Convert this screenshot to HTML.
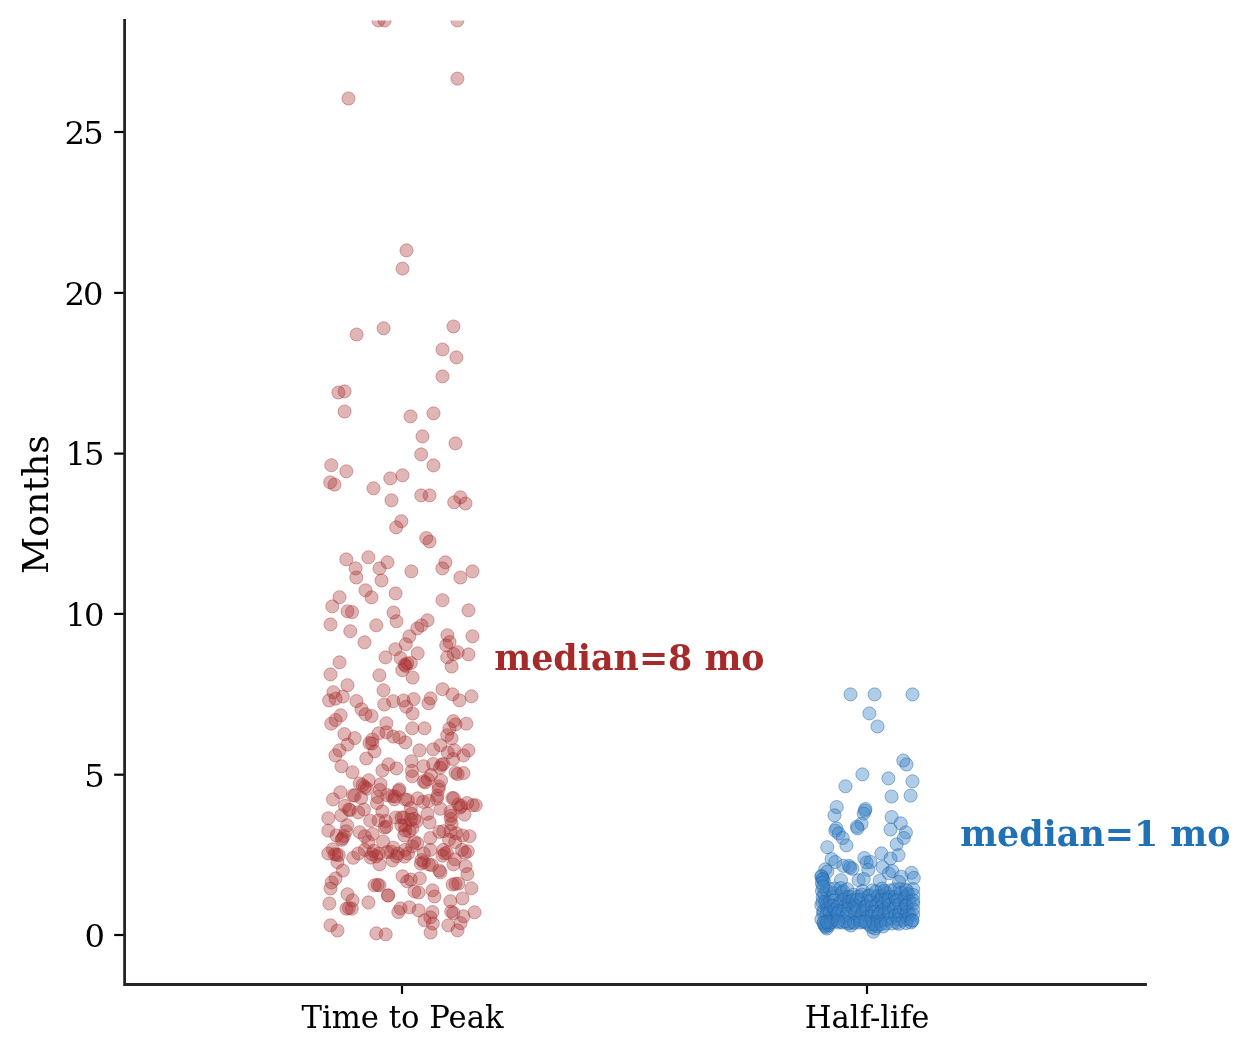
<!DOCTYPE html>
<html><head><meta charset="utf-8"><title>Months strip plot</title>
<style>
html,body{margin:0;padding:0;background:#fff}
svg{display:block}
text{font-family:"DejaVu Serif","Liberation Serif",serif;fill:#000}
.tk{font-size:32.2px}
.yl{font-size:36.3px}
.an{font-size:35.5px;font-weight:bold}
</style></head><body>
<svg width="1248" height="1054" viewBox="0 0 1248 1054">
<rect width="1248" height="1054" fill="#fff"/>
<defs><clipPath id="ax"><rect x="124.6" y="20.4" width="1020.9" height="964.1"/></clipPath></defs>
<g clip-path="url(#ax)">
<g fill="#a52a2a" fill-opacity="0.35" stroke="#a52a2a" stroke-opacity="0.42" stroke-width="0.9"><circle cx="378.5" cy="20.4" r="6.55"/><circle cx="384.6" cy="20.4" r="6.55"/><circle cx="457.4" cy="20.4" r="6.55"/><circle cx="457.4" cy="78.6" r="6.55"/><circle cx="348.5" cy="98.5" r="6.55"/><circle cx="406.5" cy="250.4" r="6.55"/><circle cx="402.5" cy="268.6" r="6.55"/><circle cx="356.6" cy="334.5" r="6.55"/><circle cx="383.6" cy="328.3" r="6.55"/><circle cx="453.5" cy="326.5" r="6.55"/><circle cx="442.5" cy="349.5" r="6.55"/><circle cx="456.4" cy="357.4" r="6.55"/><circle cx="442.5" cy="376.4" r="6.55"/><circle cx="338.4" cy="392.5" r="6.55"/><circle cx="344.6" cy="391.4" r="6.55"/><circle cx="344.6" cy="411.5" r="6.55"/><circle cx="410.5" cy="416.4" r="6.55"/><circle cx="433.5" cy="413.4" r="6.55"/><circle cx="422.5" cy="436.4" r="6.55"/><circle cx="455.5" cy="443.4" r="6.55"/><circle cx="421.2" cy="454.4" r="6.55"/><circle cx="433.5" cy="465.4" r="6.55"/><circle cx="331.3" cy="465.2" r="6.55"/><circle cx="346.3" cy="471.3" r="6.55"/><circle cx="330.2" cy="482.3" r="6.55"/><circle cx="334.5" cy="484.6" r="6.55"/><circle cx="373.5" cy="488.3" r="6.55"/><circle cx="390.3" cy="478.4" r="6.55"/><circle cx="402.5" cy="475.3" r="6.55"/><circle cx="391.5" cy="500.3" r="6.55"/><circle cx="421.2" cy="495.4" r="6.55"/><circle cx="429.6" cy="495.4" r="6.55"/><circle cx="460.4" cy="497.3" r="6.55"/><circle cx="454.2" cy="502.3" r="6.55"/><circle cx="465.5" cy="503.5" r="6.55"/><circle cx="401.4" cy="521.2" r="6.55"/><circle cx="396.2" cy="527.4" r="6.55"/><circle cx="426.2" cy="538.1" r="6.55"/><circle cx="429.6" cy="541.5" r="6.55"/><circle cx="346.3" cy="559.4" r="6.55"/><circle cx="368.4" cy="557.3" r="6.55"/><circle cx="387.5" cy="562.3" r="6.55"/><circle cx="355.6" cy="568.4" r="6.55"/><circle cx="379.5" cy="568.4" r="6.55"/><circle cx="356.3" cy="577.5" r="6.55"/><circle cx="381.5" cy="580.5" r="6.55"/><circle cx="411.4" cy="571.4" r="6.55"/><circle cx="445.4" cy="562.3" r="6.55"/><circle cx="442.4" cy="568.4" r="6.55"/><circle cx="460.4" cy="577.5" r="6.55"/><circle cx="472.5" cy="571.4" r="6.55"/><circle cx="365.5" cy="590.3" r="6.55"/><circle cx="371.5" cy="597.4" r="6.55"/><circle cx="395.6" cy="593.4" r="6.55"/><circle cx="339.5" cy="597.2" r="6.55"/><circle cx="332.3" cy="606.4" r="6.55"/><circle cx="347.5" cy="611.3" r="6.55"/><circle cx="352.1" cy="612.1" r="6.55"/><circle cx="393.5" cy="612.5" r="6.55"/><circle cx="396.5" cy="621.3" r="6.55"/><circle cx="330.5" cy="624.4" r="6.55"/><circle cx="376.3" cy="625.3" r="6.55"/><circle cx="350.3" cy="631.2" r="6.55"/><circle cx="364.5" cy="642.3" r="6.55"/><circle cx="442.5" cy="600.2" r="6.55"/><circle cx="468.5" cy="610.3" r="6.55"/><circle cx="427.6" cy="620.3" r="6.55"/><circle cx="421.5" cy="625.3" r="6.55"/><circle cx="417.3" cy="628.4" r="6.55"/><circle cx="409.4" cy="636.3" r="6.55"/><circle cx="405.8" cy="644.2" r="6.55"/><circle cx="447.4" cy="635.2" r="6.55"/><circle cx="449.6" cy="642.1" r="6.55"/><circle cx="446.2" cy="645.3" r="6.55"/><circle cx="472.5" cy="636.3" r="6.55"/><circle cx="395.4" cy="649.2" r="6.55"/><circle cx="385.5" cy="657.4" r="6.55"/><circle cx="400.5" cy="658.0" r="6.55"/><circle cx="339.5" cy="662.3" r="6.55"/><circle cx="330.5" cy="674.4" r="6.55"/><circle cx="379.4" cy="675.3" r="6.55"/><circle cx="347.5" cy="685.2" r="6.55"/><circle cx="383.5" cy="690.3" r="6.55"/><circle cx="333.4" cy="692.2" r="6.55"/><circle cx="342.8" cy="696.6" r="6.55"/><circle cx="329.1" cy="700.5" r="6.55"/><circle cx="335.6" cy="698.7" r="6.55"/><circle cx="356.5" cy="701.1" r="6.55"/><circle cx="384.2" cy="704.5" r="6.55"/><circle cx="393.2" cy="701.2" r="6.55"/><circle cx="361.5" cy="709.2" r="6.55"/><circle cx="365.5" cy="714.2" r="6.55"/><circle cx="371.6" cy="716.0" r="6.55"/><circle cx="340.6" cy="715.3" r="6.55"/><circle cx="335.6" cy="720.0" r="6.55"/><circle cx="417.7" cy="653.3" r="6.55"/><circle cx="410.8" cy="663.0" r="6.55"/><circle cx="407.2" cy="663.4" r="6.55"/><circle cx="404.7" cy="664.8" r="6.55"/><circle cx="402.3" cy="670.2" r="6.55"/><circle cx="405.8" cy="665.9" r="6.55"/><circle cx="412.6" cy="677.5" r="6.55"/><circle cx="457.7" cy="652.2" r="6.55"/><circle cx="453.7" cy="654.0" r="6.55"/><circle cx="447.2" cy="657.3" r="6.55"/><circle cx="468.5" cy="654.4" r="6.55"/><circle cx="451.6" cy="666.5" r="6.55"/><circle cx="442.5" cy="689.2" r="6.55"/><circle cx="452.5" cy="694.3" r="6.55"/><circle cx="459.5" cy="700.4" r="6.55"/><circle cx="471.5" cy="696.3" r="6.55"/><circle cx="430.6" cy="698.4" r="6.55"/><circle cx="428.5" cy="703.4" r="6.55"/><circle cx="413.7" cy="699.1" r="6.55"/><circle cx="403.6" cy="700.5" r="6.55"/><circle cx="406.1" cy="706.7" r="6.55"/><circle cx="412.6" cy="713.5" r="6.55"/><circle cx="331.2" cy="723.7" r="6.55"/><circle cx="386.4" cy="723.3" r="6.55"/><circle cx="378.5" cy="733.4" r="6.55"/><circle cx="386.4" cy="732.3" r="6.55"/><circle cx="393.2" cy="736.6" r="6.55"/><circle cx="399.4" cy="737.4" r="6.55"/><circle cx="344.4" cy="734.1" r="6.55"/><circle cx="354.7" cy="738.1" r="6.55"/><circle cx="347.5" cy="744.6" r="6.55"/><circle cx="339.5" cy="750.3" r="6.55"/><circle cx="335.4" cy="755.4" r="6.55"/><circle cx="372.3" cy="739.5" r="6.55"/><circle cx="369.4" cy="743.1" r="6.55"/><circle cx="372.0" cy="743.5" r="6.55"/><circle cx="374.5" cy="751.4" r="6.55"/><circle cx="366.3" cy="758.5" r="6.55"/><circle cx="341.5" cy="766.3" r="6.55"/><circle cx="352.5" cy="772.3" r="6.55"/><circle cx="388.4" cy="764.3" r="6.55"/><circle cx="382.4" cy="770.5" r="6.55"/><circle cx="396.5" cy="768.4" r="6.55"/><circle cx="368.7" cy="780.3" r="6.55"/><circle cx="380.6" cy="784.2" r="6.55"/><circle cx="359.7" cy="783.5" r="6.55"/><circle cx="362.6" cy="785.0" r="6.55"/><circle cx="364.8" cy="787.1" r="6.55"/><circle cx="399.4" cy="789.3" r="6.55"/><circle cx="379.9" cy="790.0" r="6.55"/><circle cx="412.3" cy="728.3" r="6.55"/><circle cx="424.5" cy="728.3" r="6.55"/><circle cx="405.4" cy="742.4" r="6.55"/><circle cx="419.5" cy="750.3" r="6.55"/><circle cx="433.2" cy="749.3" r="6.55"/><circle cx="440.4" cy="745.3" r="6.55"/><circle cx="453.4" cy="721.1" r="6.55"/><circle cx="455.5" cy="724.4" r="6.55"/><circle cx="466.3" cy="723.7" r="6.55"/><circle cx="449.4" cy="728.7" r="6.55"/><circle cx="447.2" cy="735.2" r="6.55"/><circle cx="451.6" cy="738.4" r="6.55"/><circle cx="447.8" cy="752.5" r="6.55"/><circle cx="454.4" cy="750.3" r="6.55"/><circle cx="468.5" cy="750.3" r="6.55"/><circle cx="463.5" cy="755.4" r="6.55"/><circle cx="453.0" cy="759.0" r="6.55"/><circle cx="441.5" cy="764.8" r="6.55"/><circle cx="443.3" cy="764.0" r="6.55"/><circle cx="440.0" cy="767.6" r="6.55"/><circle cx="433.2" cy="764.0" r="6.55"/><circle cx="423.4" cy="766.2" r="6.55"/><circle cx="411.5" cy="761.2" r="6.55"/><circle cx="411.9" cy="770.9" r="6.55"/><circle cx="412.3" cy="776.3" r="6.55"/><circle cx="431.0" cy="774.9" r="6.55"/><circle cx="427.8" cy="779.2" r="6.55"/><circle cx="423.8" cy="781.3" r="6.55"/><circle cx="425.2" cy="782.4" r="6.55"/><circle cx="441.1" cy="780.6" r="6.55"/><circle cx="438.9" cy="786.4" r="6.55"/><circle cx="455.5" cy="772.7" r="6.55"/><circle cx="457.7" cy="774.1" r="6.55"/><circle cx="463.5" cy="773.1" r="6.55"/><circle cx="340.4" cy="792.2" r="6.55"/><circle cx="333.0" cy="799.4" r="6.55"/><circle cx="328.3" cy="818.2" r="6.55"/><circle cx="328.3" cy="830.6" r="6.55"/><circle cx="344.9" cy="805.9" r="6.55"/><circle cx="341.3" cy="815.3" r="6.55"/><circle cx="350.0" cy="810.2" r="6.55"/><circle cx="348.9" cy="809.5" r="6.55"/><circle cx="354.7" cy="795.5" r="6.55"/><circle cx="361.2" cy="798.0" r="6.55"/><circle cx="366.9" cy="788.6" r="6.55"/><circle cx="387.1" cy="795.1" r="6.55"/><circle cx="394.3" cy="799.4" r="6.55"/><circle cx="398.7" cy="790.8" r="6.55"/><circle cx="405.1" cy="799.4" r="6.55"/><circle cx="377.0" cy="803.0" r="6.55"/><circle cx="364.0" cy="809.5" r="6.55"/><circle cx="382.4" cy="811.3" r="6.55"/><circle cx="358.3" cy="812.4" r="6.55"/><circle cx="370.2" cy="820.7" r="6.55"/><circle cx="378.5" cy="820.3" r="6.55"/><circle cx="385.7" cy="821.1" r="6.55"/><circle cx="384.6" cy="827.5" r="6.55"/><circle cx="395.8" cy="817.5" r="6.55"/><circle cx="401.5" cy="817.5" r="6.55"/><circle cx="405.1" cy="825.4" r="6.55"/><circle cx="347.1" cy="825.4" r="6.55"/><circle cx="346.0" cy="831.2" r="6.55"/><circle cx="336.6" cy="835.5" r="6.55"/><circle cx="342.4" cy="838.4" r="6.55"/><circle cx="341.7" cy="839.8" r="6.55"/><circle cx="359.7" cy="832.2" r="6.55"/><circle cx="364.8" cy="836.2" r="6.55"/><circle cx="372.7" cy="834.0" r="6.55"/><circle cx="368.4" cy="842.0" r="6.55"/><circle cx="383.1" cy="841.6" r="6.55"/><circle cx="393.2" cy="847.7" r="6.55"/><circle cx="387.1" cy="852.1" r="6.55"/><circle cx="405.1" cy="830.4" r="6.55"/><circle cx="405.1" cy="849.9" r="6.55"/><circle cx="332.7" cy="849.2" r="6.55"/><circle cx="328.3" cy="853.5" r="6.55"/><circle cx="334.5" cy="854.2" r="6.55"/><circle cx="338.8" cy="855.0" r="6.55"/><circle cx="358.3" cy="853.5" r="6.55"/><circle cx="353.2" cy="857.8" r="6.55"/><circle cx="364.8" cy="849.9" r="6.55"/><circle cx="372.0" cy="854.2" r="6.55"/><circle cx="376.3" cy="856.4" r="6.55"/><circle cx="397.9" cy="853.5" r="6.55"/><circle cx="438.6" cy="789.3" r="6.55"/><circle cx="437.5" cy="795.8" r="6.55"/><circle cx="436.8" cy="798.7" r="6.55"/><circle cx="417.7" cy="798.3" r="6.55"/><circle cx="423.1" cy="801.9" r="6.55"/><circle cx="428.8" cy="800.9" r="6.55"/><circle cx="407.9" cy="800.1" r="6.55"/><circle cx="452.3" cy="798.0" r="6.55"/><circle cx="458.4" cy="804.5" r="6.55"/><circle cx="461.3" cy="805.9" r="6.55"/><circle cx="467.1" cy="803.0" r="6.55"/><circle cx="472.8" cy="805.2" r="6.55"/><circle cx="475.7" cy="805.2" r="6.55"/><circle cx="464.5" cy="814.6" r="6.55"/><circle cx="440.4" cy="808.8" r="6.55"/><circle cx="450.5" cy="811.7" r="6.55"/><circle cx="450.8" cy="818.9" r="6.55"/><circle cx="451.6" cy="823.9" r="6.55"/><circle cx="427.4" cy="813.8" r="6.55"/><circle cx="429.6" cy="822.5" r="6.55"/><circle cx="410.8" cy="808.1" r="6.55"/><circle cx="411.5" cy="813.8" r="6.55"/><circle cx="414.4" cy="818.9" r="6.55"/><circle cx="416.6" cy="821.1" r="6.55"/><circle cx="403.6" cy="817.5" r="6.55"/><circle cx="401.4" cy="825.4" r="6.55"/><circle cx="409.4" cy="831.2" r="6.55"/><circle cx="404.3" cy="835.5" r="6.55"/><circle cx="439.3" cy="831.9" r="6.55"/><circle cx="443.3" cy="831.2" r="6.55"/><circle cx="450.5" cy="831.2" r="6.55"/><circle cx="456.2" cy="833.3" r="6.55"/><circle cx="462.7" cy="835.5" r="6.55"/><circle cx="469.6" cy="836.2" r="6.55"/><circle cx="430.3" cy="838.0" r="6.55"/><circle cx="449.0" cy="839.8" r="6.55"/><circle cx="455.2" cy="842.0" r="6.55"/><circle cx="414.4" cy="842.0" r="6.55"/><circle cx="417.3" cy="843.4" r="6.55"/><circle cx="412.3" cy="846.3" r="6.55"/><circle cx="407.9" cy="853.5" r="6.55"/><circle cx="430.3" cy="849.9" r="6.55"/><circle cx="423.8" cy="853.5" r="6.55"/><circle cx="443.3" cy="849.9" r="6.55"/><circle cx="444.7" cy="853.5" r="6.55"/><circle cx="442.5" cy="855.7" r="6.55"/><circle cx="446.9" cy="852.8" r="6.55"/><circle cx="462.0" cy="849.9" r="6.55"/><circle cx="467.8" cy="851.3" r="6.55"/><circle cx="464.9" cy="852.8" r="6.55"/><circle cx="421.6" cy="860.0" r="6.55"/><circle cx="454.8" cy="859.3" r="6.55"/><circle cx="337.4" cy="862.2" r="6.55"/><circle cx="342.8" cy="870.5" r="6.55"/><circle cx="379.5" cy="864.4" r="6.55"/><circle cx="392.5" cy="860.4" r="6.55"/><circle cx="396.5" cy="856.4" r="6.55"/><circle cx="335.6" cy="878.4" r="6.55"/><circle cx="331.6" cy="882.4" r="6.55"/><circle cx="330.5" cy="888.5" r="6.55"/><circle cx="329.4" cy="903.5" r="6.55"/><circle cx="347.5" cy="894.2" r="6.55"/><circle cx="352.5" cy="900.3" r="6.55"/><circle cx="346.4" cy="908.7" r="6.55"/><circle cx="348.9" cy="908.0" r="6.55"/><circle cx="351.8" cy="908.7" r="6.55"/><circle cx="368.4" cy="902.4" r="6.55"/><circle cx="374.5" cy="885.3" r="6.55"/><circle cx="377.7" cy="884.9" r="6.55"/><circle cx="379.5" cy="885.3" r="6.55"/><circle cx="388.0" cy="895.4" r="6.55"/><circle cx="388.1" cy="895.5" r="6.55"/><circle cx="402.6" cy="876.3" r="6.55"/><circle cx="400.5" cy="908.4" r="6.55"/><circle cx="398.3" cy="912.0" r="6.55"/><circle cx="330.5" cy="925.3" r="6.55"/><circle cx="420.9" cy="863.7" r="6.55"/><circle cx="423.8" cy="862.2" r="6.55"/><circle cx="428.8" cy="864.4" r="6.55"/><circle cx="431.7" cy="865.1" r="6.55"/><circle cx="439.3" cy="870.5" r="6.55"/><circle cx="440.4" cy="872.3" r="6.55"/><circle cx="453.4" cy="864.4" r="6.55"/><circle cx="465.6" cy="866.2" r="6.55"/><circle cx="467.4" cy="874.1" r="6.55"/><circle cx="452.6" cy="884.6" r="6.55"/><circle cx="455.5" cy="883.8" r="6.55"/><circle cx="458.4" cy="883.5" r="6.55"/><circle cx="471.4" cy="888.3" r="6.55"/><circle cx="462.4" cy="898.5" r="6.55"/><circle cx="450.3" cy="901.2" r="6.55"/><circle cx="432.5" cy="890.3" r="6.55"/><circle cx="434.5" cy="896.5" r="6.55"/><circle cx="419.8" cy="878.4" r="6.55"/><circle cx="410.8" cy="879.5" r="6.55"/><circle cx="407.2" cy="881.3" r="6.55"/><circle cx="414.4" cy="891.4" r="6.55"/><circle cx="418.6" cy="892.5" r="6.55"/><circle cx="409.4" cy="907.3" r="6.55"/><circle cx="418.6" cy="910.4" r="6.55"/><circle cx="432.5" cy="912.0" r="6.55"/><circle cx="430.3" cy="917.4" r="6.55"/><circle cx="424.5" cy="920.3" r="6.55"/><circle cx="432.8" cy="923.5" r="6.55"/><circle cx="451.2" cy="911.6" r="6.55"/><circle cx="453.4" cy="913.1" r="6.55"/><circle cx="463.5" cy="916.3" r="6.55"/><circle cx="474.6" cy="912.3" r="6.55"/><circle cx="460.6" cy="923.1" r="6.55"/><circle cx="448.3" cy="925.3" r="6.55"/><circle cx="457.5" cy="930.4" r="6.55"/><circle cx="430.6" cy="932.5" r="6.55"/><circle cx="337.5" cy="930.5" r="6.55"/><circle cx="376.3" cy="933.4" r="6.55"/><circle cx="385.7" cy="934.4" r="6.55"/><circle cx="353.0" cy="795.3" r="6.55"/><circle cx="377.7" cy="797.0" r="6.55"/><circle cx="392.1" cy="796.1" r="6.55"/><circle cx="395.0" cy="796.5" r="6.55"/><circle cx="386.3" cy="826.8" r="6.55"/><circle cx="412.3" cy="828.3" r="6.55"/><circle cx="410.9" cy="819.6" r="6.55"/><circle cx="453.8" cy="798.2" r="6.55"/><circle cx="451.0" cy="815.8" r="6.55"/><circle cx="460.1" cy="807.6" r="6.55"/><circle cx="336.6" cy="854.7" r="6.55"/><circle cx="370.8" cy="857.6" r="6.55"/><circle cx="373.7" cy="850.9" r="6.55"/><circle cx="343.8" cy="836.0" r="6.55"/><circle cx="378.7" cy="853.8" r="6.55"/><circle cx="391.2" cy="851.8" r="6.55"/><circle cx="404.6" cy="856.6" r="6.55"/></g>
<g fill="#3a82c6" fill-opacity="0.4" stroke="#1c5fa3" stroke-opacity="0.5" stroke-width="0.9"><circle cx="850.5" cy="694.4" r="6.55"/><circle cx="874.6" cy="694.4" r="6.55"/><circle cx="912.5" cy="694.4" r="6.55"/><circle cx="869.4" cy="713.4" r="6.55"/><circle cx="877.5" cy="726.5" r="6.55"/><circle cx="903.3" cy="760.5" r="6.55"/><circle cx="906.5" cy="764.5" r="6.55"/><circle cx="862.4" cy="774.4" r="6.55"/><circle cx="888.4" cy="778.4" r="6.55"/><circle cx="912.5" cy="781.3" r="6.55"/><circle cx="845.5" cy="786.3" r="6.55"/><circle cx="891.6" cy="796.5" r="6.55"/><circle cx="910.6" cy="795.6" r="6.55"/><circle cx="836.7" cy="807.1" r="6.55"/><circle cx="834.5" cy="815.3" r="6.55"/><circle cx="865.4" cy="809.0" r="6.55"/><circle cx="864.9" cy="810.7" r="6.55"/><circle cx="863.7" cy="813.6" r="6.55"/><circle cx="861.5" cy="823.8" r="6.55"/><circle cx="856.9" cy="826.7" r="6.55"/><circle cx="857.5" cy="828.4" r="6.55"/><circle cx="891.6" cy="817.0" r="6.55"/><circle cx="900.7" cy="823.3" r="6.55"/><circle cx="890.5" cy="829.5" r="6.55"/><circle cx="905.9" cy="832.4" r="6.55"/><circle cx="903.8" cy="838.0" r="6.55"/><circle cx="896.7" cy="844.3" r="6.55"/><circle cx="836.4" cy="828.4" r="6.55"/><circle cx="835.3" cy="830.7" r="6.55"/><circle cx="838.7" cy="833.5" r="6.55"/><circle cx="842.7" cy="838.0" r="6.55"/><circle cx="846.4" cy="845.4" r="6.55"/><circle cx="827.3" cy="847.2" r="6.55"/><circle cx="881.4" cy="853.4" r="6.55"/><circle cx="898.5" cy="855.1" r="6.55"/><circle cx="890.5" cy="858.5" r="6.55"/><circle cx="864.3" cy="858.0" r="6.55"/><circle cx="866.6" cy="862.5" r="6.55"/><circle cx="870.6" cy="862.0" r="6.55"/><circle cx="831.6" cy="859.1" r="6.55"/><circle cx="835.3" cy="862.0" r="6.55"/><circle cx="825.3" cy="869.3" r="6.55"/><circle cx="827.3" cy="871.6" r="6.55"/><circle cx="843.3" cy="865.9" r="6.55"/><circle cx="848.9" cy="865.9" r="6.55"/><circle cx="852.4" cy="868.8" r="6.55"/><circle cx="850.1" cy="867.6" r="6.55"/><circle cx="868.3" cy="869.9" r="6.55"/><circle cx="882.5" cy="867.1" r="6.55"/><circle cx="888.8" cy="873.3" r="6.55"/><circle cx="892.2" cy="871.1" r="6.55"/><circle cx="911.5" cy="872.8" r="6.55"/><circle cx="913.8" cy="877.9" r="6.55"/><circle cx="901.3" cy="876.7" r="6.55"/><circle cx="899.0" cy="881.9" r="6.55"/><circle cx="821.6" cy="876.7" r="6.55"/><circle cx="822.8" cy="879.0" r="6.55"/><circle cx="823.9" cy="881.3" r="6.55"/><circle cx="841.0" cy="880.2" r="6.55"/><circle cx="858.6" cy="880.2" r="6.55"/><circle cx="863.7" cy="879.0" r="6.55"/><circle cx="879.7" cy="880.7" r="6.55"/><circle cx="822.0" cy="891.1" r="6.55"/><circle cx="822.7" cy="897.0" r="6.55"/><circle cx="822.5" cy="902.0" r="6.55"/><circle cx="821.3" cy="905.1" r="6.55"/><circle cx="823.3" cy="911.0" r="6.55"/><circle cx="823.1" cy="913.7" r="6.55"/><circle cx="821.4" cy="919.4" r="6.55"/><circle cx="826.3" cy="890.3" r="6.55"/><circle cx="824.1" cy="893.8" r="6.55"/><circle cx="825.2" cy="902.0" r="6.55"/><circle cx="827.1" cy="903.8" r="6.55"/><circle cx="827.3" cy="908.7" r="6.55"/><circle cx="826.5" cy="913.8" r="6.55"/><circle cx="824.1" cy="922.1" r="6.55"/><circle cx="829.5" cy="888.7" r="6.55"/><circle cx="832.6" cy="896.7" r="6.55"/><circle cx="829.8" cy="902.2" r="6.55"/><circle cx="830.8" cy="906.0" r="6.55"/><circle cx="829.5" cy="912.3" r="6.55"/><circle cx="831.4" cy="917.5" r="6.55"/><circle cx="832.2" cy="919.6" r="6.55"/><circle cx="834.7" cy="888.5" r="6.55"/><circle cx="833.8" cy="893.2" r="6.55"/><circle cx="834.4" cy="900.6" r="6.55"/><circle cx="833.2" cy="906.0" r="6.55"/><circle cx="834.6" cy="909.5" r="6.55"/><circle cx="836.5" cy="915.3" r="6.55"/><circle cx="834.5" cy="920.4" r="6.55"/><circle cx="840.6" cy="888.1" r="6.55"/><circle cx="841.7" cy="893.0" r="6.55"/><circle cx="840.8" cy="901.7" r="6.55"/><circle cx="837.9" cy="906.5" r="6.55"/><circle cx="839.3" cy="910.7" r="6.55"/><circle cx="837.8" cy="913.4" r="6.55"/><circle cx="838.5" cy="922.5" r="6.55"/><circle cx="843.2" cy="891.1" r="6.55"/><circle cx="846.1" cy="897.0" r="6.55"/><circle cx="843.8" cy="899.5" r="6.55"/><circle cx="844.5" cy="906.5" r="6.55"/><circle cx="842.8" cy="911.4" r="6.55"/><circle cx="845.6" cy="917.0" r="6.55"/><circle cx="842.5" cy="922.5" r="6.55"/><circle cx="847.3" cy="889.3" r="6.55"/><circle cx="849.4" cy="896.9" r="6.55"/><circle cx="848.3" cy="902.0" r="6.55"/><circle cx="849.1" cy="904.4" r="6.55"/><circle cx="848.2" cy="908.9" r="6.55"/><circle cx="847.3" cy="913.9" r="6.55"/><circle cx="849.7" cy="922.7" r="6.55"/><circle cx="853.7" cy="894.7" r="6.55"/><circle cx="852.5" cy="900.6" r="6.55"/><circle cx="854.8" cy="905.1" r="6.55"/><circle cx="853.2" cy="908.4" r="6.55"/><circle cx="855.2" cy="913.4" r="6.55"/><circle cx="853.5" cy="922.0" r="6.55"/><circle cx="858.6" cy="896.4" r="6.55"/><circle cx="856.5" cy="899.9" r="6.55"/><circle cx="856.7" cy="906.8" r="6.55"/><circle cx="857.3" cy="910.1" r="6.55"/><circle cx="860.1" cy="917.0" r="6.55"/><circle cx="860.0" cy="920.3" r="6.55"/><circle cx="862.6" cy="891.0" r="6.55"/><circle cx="861.8" cy="894.7" r="6.55"/><circle cx="861.3" cy="899.6" r="6.55"/><circle cx="864.6" cy="907.3" r="6.55"/><circle cx="863.2" cy="910.3" r="6.55"/><circle cx="862.0" cy="913.6" r="6.55"/><circle cx="861.8" cy="921.7" r="6.55"/><circle cx="868.3" cy="895.9" r="6.55"/><circle cx="867.9" cy="901.3" r="6.55"/><circle cx="866.7" cy="906.1" r="6.55"/><circle cx="866.4" cy="910.3" r="6.55"/><circle cx="868.3" cy="916.3" r="6.55"/><circle cx="866.4" cy="922.5" r="6.55"/><circle cx="872.4" cy="890.4" r="6.55"/><circle cx="869.9" cy="895.3" r="6.55"/><circle cx="870.8" cy="900.9" r="6.55"/><circle cx="871.7" cy="906.6" r="6.55"/><circle cx="872.4" cy="911.6" r="6.55"/><circle cx="871.2" cy="916.1" r="6.55"/><circle cx="872.8" cy="921.9" r="6.55"/><circle cx="875.8" cy="891.5" r="6.55"/><circle cx="877.9" cy="895.9" r="6.55"/><circle cx="878.3" cy="902.2" r="6.55"/><circle cx="876.5" cy="905.4" r="6.55"/><circle cx="875.1" cy="911.8" r="6.55"/><circle cx="878.1" cy="915.3" r="6.55"/><circle cx="877.2" cy="921.5" r="6.55"/><circle cx="881.9" cy="888.6" r="6.55"/><circle cx="882.1" cy="895.4" r="6.55"/><circle cx="881.6" cy="899.8" r="6.55"/><circle cx="881.5" cy="906.5" r="6.55"/><circle cx="881.5" cy="911.3" r="6.55"/><circle cx="879.1" cy="913.9" r="6.55"/><circle cx="880.7" cy="921.2" r="6.55"/><circle cx="884.4" cy="890.8" r="6.55"/><circle cx="886.1" cy="893.1" r="6.55"/><circle cx="885.4" cy="899.0" r="6.55"/><circle cx="883.8" cy="903.6" r="6.55"/><circle cx="884.8" cy="908.9" r="6.55"/><circle cx="884.3" cy="913.4" r="6.55"/><circle cx="885.4" cy="920.0" r="6.55"/><circle cx="890.6" cy="890.4" r="6.55"/><circle cx="889.1" cy="896.9" r="6.55"/><circle cx="888.1" cy="899.8" r="6.55"/><circle cx="889.2" cy="904.9" r="6.55"/><circle cx="888.6" cy="911.8" r="6.55"/><circle cx="889.6" cy="913.4" r="6.55"/><circle cx="890.6" cy="918.7" r="6.55"/><circle cx="894.9" cy="889.3" r="6.55"/><circle cx="895.0" cy="897.1" r="6.55"/><circle cx="896.0" cy="899.8" r="6.55"/><circle cx="896.0" cy="905.9" r="6.55"/><circle cx="894.2" cy="908.8" r="6.55"/><circle cx="895.1" cy="915.7" r="6.55"/><circle cx="896.5" cy="922.6" r="6.55"/><circle cx="899.7" cy="889.3" r="6.55"/><circle cx="900.8" cy="892.9" r="6.55"/><circle cx="897.7" cy="900.5" r="6.55"/><circle cx="899.7" cy="903.7" r="6.55"/><circle cx="899.8" cy="912.1" r="6.55"/><circle cx="898.8" cy="915.1" r="6.55"/><circle cx="898.2" cy="919.6" r="6.55"/><circle cx="905.7" cy="889.5" r="6.55"/><circle cx="905.7" cy="896.9" r="6.55"/><circle cx="904.2" cy="899.1" r="6.55"/><circle cx="905.8" cy="905.2" r="6.55"/><circle cx="903.5" cy="909.5" r="6.55"/><circle cx="905.8" cy="915.4" r="6.55"/><circle cx="903.0" cy="920.4" r="6.55"/><circle cx="906.9" cy="890.5" r="6.55"/><circle cx="908.2" cy="894.2" r="6.55"/><circle cx="909.6" cy="901.6" r="6.55"/><circle cx="906.5" cy="905.4" r="6.55"/><circle cx="907.5" cy="912.2" r="6.55"/><circle cx="909.6" cy="914.3" r="6.55"/><circle cx="907.5" cy="919.0" r="6.55"/><circle cx="913.2" cy="889.1" r="6.55"/><circle cx="913.2" cy="895.0" r="6.55"/><circle cx="913.2" cy="900.6" r="6.55"/><circle cx="913.2" cy="903.6" r="6.55"/><circle cx="913.2" cy="909.5" r="6.55"/><circle cx="913.1" cy="914.7" r="6.55"/><circle cx="912.2" cy="920.6" r="6.55"/><circle cx="821.5" cy="876" r="6.55"/><circle cx="822.5" cy="879.5" r="6.55"/><circle cx="821.8" cy="883" r="6.55"/><circle cx="823" cy="886.5" r="6.55"/><circle cx="826" cy="927" r="6.55"/><circle cx="828.5" cy="924" r="6.55"/><circle cx="824.5" cy="925" r="6.55"/><circle cx="826.8" cy="928.5" r="6.55"/><circle cx="825" cy="926" r="6.55"/><circle cx="829" cy="925.5" r="6.55"/><circle cx="823.5" cy="923" r="6.55"/><circle cx="831" cy="922.5" r="6.55"/><circle cx="827" cy="922" r="6.55"/><circle cx="850.9" cy="925.5" r="6.55"/><circle cx="848" cy="923.5" r="6.55"/><circle cx="854" cy="923" r="6.55"/><circle cx="845" cy="921.5" r="6.55"/><circle cx="873.5" cy="931.7" r="6.55"/><circle cx="875" cy="928.5" r="6.55"/><circle cx="871.5" cy="927" r="6.55"/><circle cx="877" cy="926" r="6.55"/><circle cx="869" cy="924.5" r="6.55"/><circle cx="874" cy="924" r="6.55"/><circle cx="883" cy="926.5" r="6.55"/><circle cx="881" cy="924" r="6.55"/><circle cx="886" cy="923.5" r="6.55"/><circle cx="892" cy="923.5" r="6.55"/><circle cx="899" cy="923.8" r="6.55"/><circle cx="906" cy="923" r="6.55"/><circle cx="911" cy="922.5" r="6.55"/><circle cx="912.5" cy="920.5" r="6.55"/><circle cx="838" cy="921" r="6.55"/><circle cx="860" cy="922.5" r="6.55"/><circle cx="865" cy="921.5" r="6.55"/></g>
</g>
<g stroke="#000" stroke-width="2.2" fill="none"><line x1="114.2" y1="935" x2="124.6" y2="935"/><line x1="114.2" y1="774.7" x2="124.6" y2="774.7"/><line x1="114.2" y1="613.9" x2="124.6" y2="613.9"/><line x1="114.2" y1="453.6" x2="124.6" y2="453.6"/><line x1="114.2" y1="292.9" x2="124.6" y2="292.9"/><line x1="114.2" y1="132.0" x2="124.6" y2="132.0"/><line x1="402" y1="984.5" x2="402" y2="993.9"/><line x1="867" y1="984.5" x2="867" y2="993.9"/></g>
<path d="M124.6 20.4V984.5H1145.5" stroke="#242424" stroke-width="2.78" fill="none" stroke-linecap="square" stroke-linejoin="miter"/>
<g class="tk"><text x="84.6" y="946.8">0</text><text x="84.2" y="786.5">5</text><text x="65.4 83.9" y="625.7">10</text><text x="65.4 84.1" y="465.4">15</text><text x="64.5 83.1" y="304.7">20</text><text x="64.5 83.3" y="143.8">25</text>
<text transform="translate(402.5,1027.5) scale(0.953,1)" text-anchor="middle">Time to Peak</text>
<text transform="translate(867.1,1027.5) scale(0.953,1)" text-anchor="middle">Half-life</text>
</g>
<text class="yl" transform="translate(48.3,504.5) rotate(-90)" text-anchor="middle">Months</text>
<text class="an" transform="translate(494.3,670) scale(0.982,1)" style="fill:#a52a2a">median=8 mo</text>
<text class="an" transform="translate(960.2,845.5) scale(0.982,1)" style="fill:#2171b5">median=1 mo</text>
</svg>
</body></html>
